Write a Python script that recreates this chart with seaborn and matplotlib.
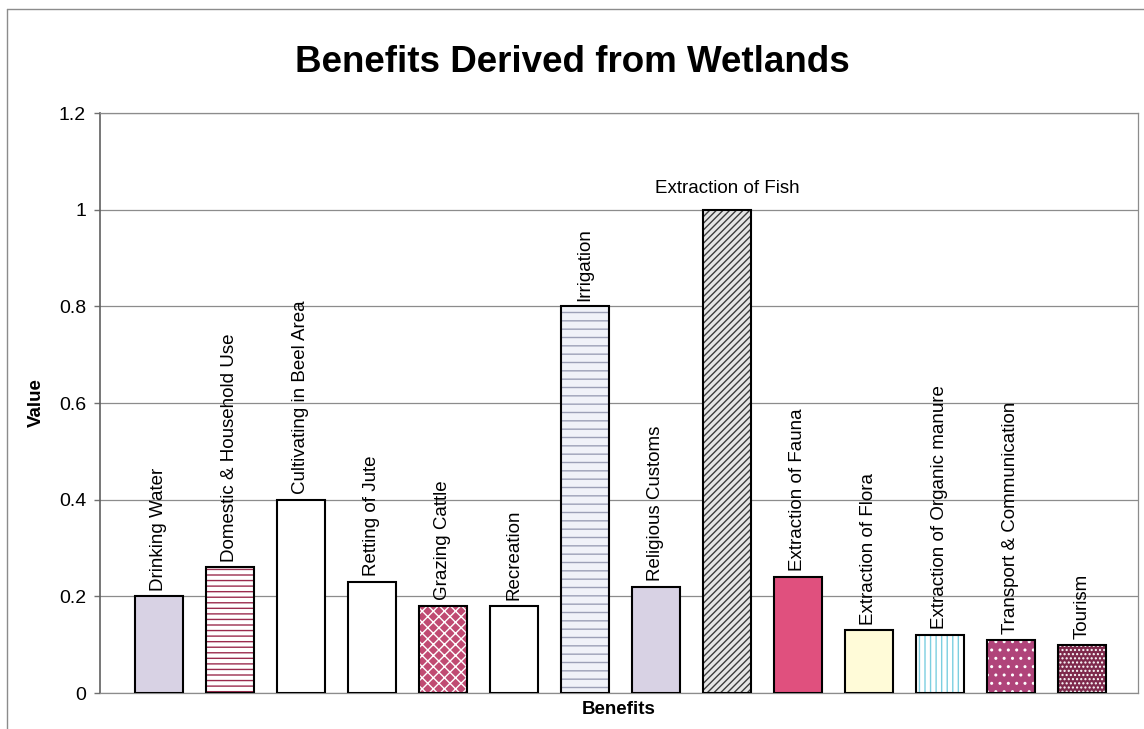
import matplotlib
matplotlib.use("Agg")
import matplotlib.pyplot as plt
from matplotlib.lines import Line2D
import seaborn as sns

sns.set_style("white")
plt.rcParams['font.family'] = ['Liberation Sans', 'DejaVu Sans']
plt.rcParams['hatch.linewidth'] = 1.0
plt.rcParams['text.color'] = 'black'
plt.rcParams['axes.labelcolor'] = 'black'
plt.rcParams['ytick.color'] = 'black'

# data
benefits = ['Drinking Water', 'Domestic & Household Use', 'Cultivating in Beel Area',
            'Retting of Jute', 'Grazing Cattle', 'Recreation', 'Irrigation',
            'Religious Customs', 'Extraction of Fish', 'Extraction of Fauna',
            'Extraction of Flora', 'Extraction of Organic manure',
            'Transport & Communication', 'Tourism']
values = [0.20, 0.26, 0.40, 0.23, 0.18, 0.18, 0.80, 0.22, 1.00, 0.24, 0.13, 0.12, 0.11, 0.10]
yticks = [0, 0.2, 0.4, 0.6, 0.8, 1, 1.2]
ytick_labels = ['0', '0.2', '0.4', '0.6', '0.8', '1', '1.2']

# bar styles (fill, hatch, hatch colour)
face_colors = ['#d8d2e4', '#ffffff', '#ffffff', '#ffffff', '#c04a72', '#ffffff', '#f0f2f8',
               '#d8d2e4', '#e6e6e6', '#e0507e', '#fffbd8', '#ffffff', '#b0447a', '#7e2a4c']
hatches = ['', '---', '', '', 'xxx', '', '--', '', '/////', '', '', '|||', '..', '....']
hatch_colors = ['none', '#9b2c4e', 'none', 'none', 'white', 'none', '#9ca0b6',
                'none', '#3c3c3c', 'none', 'none', '#7ccfe0', 'white', 'white']

fig = plt.figure(figsize=(11.44, 7.29), dpi=100)
ax = fig.add_axes([100/1144, 36/729, 1038/1144, 580/729])

bw = 0.676
sns.barplot(x=benefits, y=values, hue=benefits, palette=face_colors, legend=False,
            saturation=1, width=bw, errorbar=None, ax=ax, zorder=2)
base = sorted(ax.patches, key=lambda p: p.get_x())
for p, h, hc in zip(base, hatches, hatch_colors):
    p.set_hatch(h)
    p.set_edgecolor(hc)
    p.set_linewidth(0)

# outlines on top
n0 = len(ax.patches)
sns.barplot(x=benefits, y=values, color='white', width=bw, errorbar=None, ax=ax, zorder=3)
for p in ax.patches[n0:]:
    p.set_facecolor('none')
    p.set_edgecolor('black')
    p.set_linewidth(1.5)

# labels above bars
for i, (name, v) in enumerate(zip(benefits, values)):
    if v < 0.9:
        ax.annotate(name, (i, v), xytext=(0, 4), textcoords='offset points',
                    rotation=90, ha='center', va='bottom', fontsize=13.5, zorder=4)
    else:
        ax.annotate(name, (i, v), xytext=(0, 9), textcoords='offset points',
                    rotation=0, ha='center', va='bottom', fontsize=13.5, zorder=4)

ax.set_xlim(-0.831, 13.79)
ax.set_ylim(0, 1.2)
ax.set_yticks(yticks)
ax.set_yticklabels(ytick_labels, fontsize=14)
ax.set_xticks([])
ax.tick_params(axis='y', direction='out', length=4, width=1, color='#707070', pad=6, left=True)
ax.yaxis.grid(True, color='#8c8c8c', lw=0.9)
ax.set_axisbelow(True)
for side, s in ax.spines.items():
    s.set_color('#8c8c8c')
    s.set_linewidth(0.9)
ax.spines['left'].set_color('#606060')
ax.spines['left'].set_linewidth(1.2)

ax.set_ylabel('Value', fontsize=13.5, fontweight='bold', labelpad=10)
ax.set_xlabel('Benefits', fontsize=13.5, fontweight='bold', labelpad=6)

fig.text(0.5, 1 - 72/729, 'Benefits Derived from Wetlands', ha='center', va='baseline',
         fontsize=26.5, fontweight='bold')

# chart frame
fig.add_artist(Line2D([7/1144, 7/1144], [0, 1 - 9/729], color='#8c8c8c', lw=1,
                      transform=fig.transFigure))
fig.add_artist(Line2D([7/1144, 1], [1 - 9/729, 1 - 9/729], color='#8c8c8c', lw=1,
                      transform=fig.transFigure))

plt.savefig('out.png', dpi=100)
